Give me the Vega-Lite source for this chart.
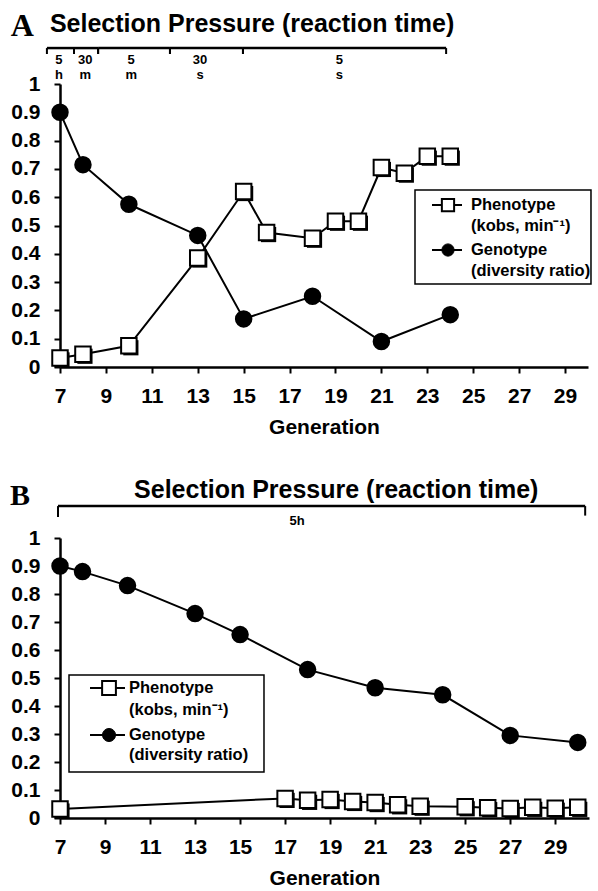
{
  "$schema": "https://vega.github.io/schema/vega-lite/v6.json",
  "background": "white",
  "padding": {"left": 10, "top": 9, "right": 0, "bottom": 0},
  "spacing": 40,
  "config": {
    "view": {"stroke": null},
    "font": "Liberation Sans",
    "axis": {
      "domainColor": "black", "domainWidth": 2.5, "tickColor": "black", "tickWidth": 2, "tickSize": 6,
      "labelFont": "Liberation Sans", "labelFontWeight": "bold", "labelColor": "black", "labelOverlap": false,
      "titleFont": "Liberation Sans", "titleFontWeight": "bold", "titleColor": "black", "grid": false
    },
    "axisX": {"labelFontSize": 21, "labelPadding": 12, "titleFontSize": 21, "titlePadding": 10, "labelFlush": false},
    "axisY": {"labelFontSize": 21, "labelPadding": 14, "labelFlush": false}
  },
  "datasets": {
    "a": [
      {"gen": 7, "value": 0.032, "series": "Phenotype"},
      {"gen": 8, "value": 0.045, "series": "Phenotype"},
      {"gen": 10, "value": 0.075, "series": "Phenotype"},
      {"gen": 13, "value": 0.385, "series": "Phenotype"},
      {"gen": 15, "value": 0.62, "series": "Phenotype"},
      {"gen": 16, "value": 0.475, "series": "Phenotype"},
      {"gen": 18, "value": 0.455, "series": "Phenotype"},
      {"gen": 19, "value": 0.515, "series": "Phenotype"},
      {"gen": 20, "value": 0.515, "series": "Phenotype"},
      {"gen": 21, "value": 0.705, "series": "Phenotype"},
      {"gen": 22, "value": 0.685, "series": "Phenotype"},
      {"gen": 23, "value": 0.745, "series": "Phenotype"},
      {"gen": 24, "value": 0.745, "series": "Phenotype"},
      {"gen": 7, "value": 0.9, "series": "Genotype"},
      {"gen": 8, "value": 0.715, "series": "Genotype"},
      {"gen": 10, "value": 0.575, "series": "Genotype"},
      {"gen": 13, "value": 0.465, "series": "Genotype"},
      {"gen": 15, "value": 0.17, "series": "Genotype"},
      {"gen": 18, "value": 0.25, "series": "Genotype"},
      {"gen": 21, "value": 0.09, "series": "Genotype"},
      {"gen": 24, "value": 0.185, "series": "Genotype"}
    ],
    "b": [
      {"gen": 7, "value": 0.032, "series": "Phenotype"},
      {"gen": 17, "value": 0.07, "series": "Phenotype"},
      {"gen": 18, "value": 0.063, "series": "Phenotype"},
      {"gen": 19, "value": 0.066, "series": "Phenotype"},
      {"gen": 20, "value": 0.059, "series": "Phenotype"},
      {"gen": 21, "value": 0.055, "series": "Phenotype"},
      {"gen": 22, "value": 0.047, "series": "Phenotype"},
      {"gen": 23, "value": 0.042, "series": "Phenotype"},
      {"gen": 25, "value": 0.04, "series": "Phenotype"},
      {"gen": 26, "value": 0.037, "series": "Phenotype"},
      {"gen": 27, "value": 0.034, "series": "Phenotype"},
      {"gen": 28, "value": 0.038, "series": "Phenotype"},
      {"gen": 29, "value": 0.035, "series": "Phenotype"},
      {"gen": 30, "value": 0.038, "series": "Phenotype"},
      {"gen": 7, "value": 0.9, "series": "Genotype"},
      {"gen": 8, "value": 0.88, "series": "Genotype"},
      {"gen": 10, "value": 0.83, "series": "Genotype"},
      {"gen": 13, "value": 0.73, "series": "Genotype"},
      {"gen": 15, "value": 0.655, "series": "Genotype"},
      {"gen": 18, "value": 0.53, "series": "Genotype"},
      {"gen": 21, "value": 0.465, "series": "Genotype"},
      {"gen": 24, "value": 0.44, "series": "Genotype"},
      {"gen": 27, "value": 0.295, "series": "Genotype"},
      {"gen": 30, "value": 0.27, "series": "Genotype"}
    ],
    "pressureA": [
      {"start": 6.43, "end": 7.61, "mid": 6.95, "label": "5\nh"},
      {"start": 7.61, "end": 8.66, "mid": 8.1, "label": "30\nm"},
      {"start": 8.66, "end": 11.79, "mid": 10.1, "label": "5\nm"},
      {"start": 11.79, "end": 14.97, "mid": 13.1, "label": "30\ns"},
      {"start": 14.97, "end": 23.82, "mid": 19.17, "label": "5\ns"}
    ],
    "pressureB": [
      {"start": 6.91, "end": 30.33, "mid": 17.53, "label": "5h"}
    ],
    "legend": [
      {"series": "Phenotype", "name": "Phenotype", "detail": "(kobs, min⁻¹)"},
      {"series": "Genotype", "name": "Genotype", "detail": "(diversity ratio)"}
    ],
    "titleA": [{"letter": "A", "title": "Selection Pressure (reaction time)"}],
    "titleB": [{"letter": "B", "title": "Selection Pressure (reaction time)"}]
  },
  "vconcat": [
    {
      "width": 528,
      "height": 283,
      "encoding": {
        "y": {"type": "quantitative", "title": null,
              "scale": {"domain": [0, 1], "nice": false},
              "axis": {"values": [0, 0.1, 0.2, 0.3, 0.4, 0.5, 0.6, 0.7, 0.8, 0.9, 1], "format": ".1~f", "labelOverlap": false}}
      },
      "layer": [
        {
          "data": {"name": "a"},
          "mark": {"type": "line", "color": "black", "strokeWidth": 2},
          "encoding": {
            "x": {"field": "gen", "type": "quantitative", "title": "Generation",
                  "scale": {"domain": [7, 30], "nice": false, "zero": false},
                  "axis": {"values": [7, 9, 11, 13, 15, 17, 19, 21, 23, 25, 27, 29]}},
            "y": {"field": "value", "type": "quantitative", "title": null,
                  "axis": {"values": [0, 0.1, 0.2, 0.3, 0.4, 0.5, 0.6, 0.7, 0.8, 0.9, 1], "format": ".1~f", "labelOverlap": false}},
            "detail": {"field": "series"}
          }
        },
        {
          "data": {"name": "a"},
          "transform": [{"filter": "datum.series == 'Phenotype'"}],
          "mark": {"type": "point", "shape": "square", "filled": true, "color": "black", "opacity": 1, "size": 230, "xOffset": 2, "yOffset": 2},
          "encoding": {
            "x": {"field": "gen", "type": "quantitative", "title": "Generation"},
            "y": {"field": "value", "type": "quantitative", "title": null}
          }
        },
        {
          "data": {"name": "a"},
          "mark": {"type": "point", "filled": true, "stroke": "black", "strokeWidth": 2, "opacity": 1, "size": 240},
          "encoding": {
            "x": {"field": "gen", "type": "quantitative", "title": "Generation"},
            "y": {"field": "value", "type": "quantitative", "title": null},
            "shape": {"field": "series", "type": "nominal",
              "scale": {"domain": ["Phenotype", "Genotype"], "range": ["square", "circle"]}, "legend": null},
            "fill": {"field": "series", "type": "nominal",
              "scale": {"domain": ["Phenotype", "Genotype"], "range": ["white", "black"]}, "legend": null}
          }
        },
        {
          "data": {"name": "pressureA"},
          "mark": {"type": "rule", "color": "black", "strokeWidth": 2.5},
          "encoding": {
            "x": {"field": "start", "type": "quantitative", "title": "Generation"},
            "x2": {"field": "end"},
            "y": {"datum": 1.127, "type": "quantitative"}
          }
        },
        {
          "data": {"name": "pressureA"},
          "mark": {"type": "rule", "color": "black", "strokeWidth": 2},
          "encoding": {
            "x": {"field": "start", "type": "quantitative", "title": "Generation"},
            "y": {"datum": 1.127, "type": "quantitative"},
            "y2": {"datum": 1.106}
          }
        },
        {
          "data": {"name": "pressureA"},
          "mark": {"type": "rule", "color": "black", "strokeWidth": 2},
          "encoding": {
            "x": {"field": "end", "type": "quantitative", "title": "Generation"},
            "y": {"datum": 1.127, "type": "quantitative"},
            "y2": {"datum": 1.106}
          }
        },
        {
          "data": {"name": "pressureA"},
          "mark": {"type": "text", "font": "Liberation Sans", "fontWeight": "bold", "fontSize": 13, "lineBreak": "\n", "lineHeight": 14.5, "baseline": "top", "align": "center", "color": "black"},
          "encoding": {
            "x": {"field": "mid", "type": "quantitative", "title": "Generation"},
            "y": {"datum": 1.106, "type": "quantitative"},
            "text": {"field": "label"}
          }
        },
        {
          "data": {"name": "titleA"},
          "mark": {"type": "text", "font": "Liberation Serif", "fontWeight": "bold", "fontSize": 32, "baseline": "alphabetic", "align": "left", "color": "black"},
          "encoding": {
            "x": {"datum": 4.86, "type": "quantitative"},
            "y": {"datum": 1.17, "type": "quantitative"},
            "text": {"field": "letter"}
          }
        },
        {
          "data": {"name": "titleA"},
          "mark": {"type": "text", "font": "Liberation Sans", "fontWeight": "bold", "fontSize": 25, "baseline": "alphabetic", "align": "left", "color": "black"},
          "encoding": {
            "x": {"datum": 6.56, "type": "quantitative"},
            "y": {"datum": 1.184, "type": "quantitative"},
            "text": {"field": "title"}
          }
        },
        {
          "data": {"name": "titleA"},
          "mark": {"type": "rect", "fill": "black", "xOffset": 3, "yOffset": 3},
          "encoding": {
            "x": {"datum": 22.464, "type": "quantitative"}, "x2": {"datum": 30.13},
            "y": {"datum": 0.6254, "type": "quantitative"}, "y2": {"datum": 0.2933}
          }
        },
        {
          "data": {"name": "titleA"},
          "mark": {"type": "rect", "fill": "white", "stroke": "black", "strokeWidth": 1.5},
          "encoding": {
            "x": {"datum": 22.464, "type": "quantitative"}, "x2": {"datum": 30.13},
            "y": {"datum": 0.6254, "type": "quantitative"}, "y2": {"datum": 0.2933}
          }
        },
        {
          "data": {"name": "legend"},
          "transform": [{"filter": "datum.series == 'Phenotype'"}],
          "layer": [
            {
              "mark": {"type": "rule", "color": "black", "strokeWidth": 2},
              "encoding": {
                "x": {"datum": 23.205, "type": "quantitative"}, "x2": {"datum": 24.511},
                "y": {"datum": 0.5724, "type": "quantitative"}
              }
            },
            {
              "mark": {"type": "point", "shape": "square", "filled": true, "fill": "white", "stroke": "black", "strokeWidth": 2, "opacity": 1, "size": 150},
              "encoding": {
                "x": {"datum": 23.901, "type": "quantitative"},
                "y": {"datum": 0.5724, "type": "quantitative"}
              }
            },
            {
              "mark": {"type": "text", "font": "Liberation Sans", "fontWeight": "bold", "fontSize": 16.5, "align": "left", "baseline": "middle", "color": "black"},
              "encoding": {
                "x": {"datum": 24.903, "type": "quantitative"},
                "y": {"datum": 0.5724, "type": "quantitative"},
                "text": {"field": "name"}
              }
            },
            {
              "mark": {"type": "text", "font": "Liberation Sans", "fontWeight": "bold", "fontSize": 16.5, "align": "left", "baseline": "middle", "color": "black"},
              "encoding": {
                "x": {"datum": 24.903, "type": "quantitative"},
                "y": {"datum": 0.4982, "type": "quantitative"},
                "text": {"field": "detail"}
              }
            }
          ]
        },
        {
          "data": {"name": "legend"},
          "transform": [{"filter": "datum.series == 'Genotype'"}],
          "layer": [
            {
              "mark": {"type": "rule", "color": "black", "strokeWidth": 2},
              "encoding": {
                "x": {"datum": 23.205, "type": "quantitative"}, "x2": {"datum": 24.511},
                "y": {"datum": 0.4134, "type": "quantitative"}
              }
            },
            {
              "mark": {"type": "point", "shape": "circle", "filled": true, "fill": "black", "stroke": "black", "strokeWidth": 1, "opacity": 1, "size": 150},
              "encoding": {
                "x": {"datum": 23.901, "type": "quantitative"},
                "y": {"datum": 0.4134, "type": "quantitative"}
              }
            },
            {
              "mark": {"type": "text", "font": "Liberation Sans", "fontWeight": "bold", "fontSize": 16.5, "align": "left", "baseline": "middle", "color": "black"},
              "encoding": {
                "x": {"datum": 24.903, "type": "quantitative"},
                "y": {"datum": 0.4134, "type": "quantitative"},
                "text": {"field": "name"}
              }
            },
            {
              "mark": {"type": "text", "font": "Liberation Sans", "fontWeight": "bold", "fontSize": 16.5, "align": "left", "baseline": "middle", "color": "black"},
              "encoding": {
                "x": {"datum": 24.903, "type": "quantitative"},
                "y": {"datum": 0.3392, "type": "quantitative"},
                "text": {"field": "detail"}
              }
            }
          ]
        }
      ]
    },
    {
      "width": 529,
      "height": 280,
      "encoding": {
        "y": {"type": "quantitative", "title": null,
              "scale": {"domain": [0, 1], "nice": false},
              "axis": {"values": [0, 0.1, 0.2, 0.3, 0.4, 0.5, 0.6, 0.7, 0.8, 0.9, 1], "format": ".1~f", "labelOverlap": false}}
      },
      "layer": [
        {
          "data": {"name": "b"},
          "mark": {"type": "line", "color": "black", "strokeWidth": 2},
          "encoding": {
            "x": {"field": "gen", "type": "quantitative", "title": "Generation",
                  "scale": {"domain": [7, 30.5], "nice": false, "zero": false},
                  "axis": {"values": [7, 9, 11, 13, 15, 17, 19, 21, 23, 25, 27, 29]}},
            "y": {"field": "value", "type": "quantitative", "title": null,
                  "axis": {"values": [0, 0.1, 0.2, 0.3, 0.4, 0.5, 0.6, 0.7, 0.8, 0.9, 1], "format": ".1~f", "labelOverlap": false}},
            "detail": {"field": "series"}
          }
        },
        {
          "data": {"name": "b"},
          "transform": [{"filter": "datum.series == 'Phenotype'"}],
          "mark": {"type": "point", "shape": "square", "filled": true, "color": "black", "opacity": 1, "size": 230, "xOffset": 2, "yOffset": 2},
          "encoding": {
            "x": {"field": "gen", "type": "quantitative", "title": "Generation"},
            "y": {"field": "value", "type": "quantitative", "title": null}
          }
        },
        {
          "data": {"name": "b"},
          "mark": {"type": "point", "filled": true, "stroke": "black", "strokeWidth": 2, "opacity": 1, "size": 240},
          "encoding": {
            "x": {"field": "gen", "type": "quantitative", "title": "Generation"},
            "y": {"field": "value", "type": "quantitative", "title": null},
            "shape": {"field": "series", "type": "nominal",
              "scale": {"domain": ["Phenotype", "Genotype"], "range": ["square", "circle"]}, "legend": null},
            "fill": {"field": "series", "type": "nominal",
              "scale": {"domain": ["Phenotype", "Genotype"], "range": ["white", "black"]}, "legend": null}
          }
        },
        {
          "data": {"name": "pressureB"},
          "mark": {"type": "rule", "color": "black", "strokeWidth": 2.5},
          "encoding": {
            "x": {"field": "start", "type": "quantitative", "title": "Generation"},
            "x2": {"field": "end"},
            "y": {"datum": 1.114, "type": "quantitative"}
          }
        },
        {
          "data": {"name": "pressureB"},
          "mark": {"type": "rule", "color": "black", "strokeWidth": 2},
          "encoding": {
            "x": {"field": "start", "type": "quantitative", "title": "Generation"},
            "y": {"datum": 1.114, "type": "quantitative"},
            "y2": {"datum": 1.075}
          }
        },
        {
          "data": {"name": "pressureB"},
          "mark": {"type": "rule", "color": "black", "strokeWidth": 2},
          "encoding": {
            "x": {"field": "end", "type": "quantitative", "title": "Generation"},
            "y": {"datum": 1.114, "type": "quantitative"},
            "y2": {"datum": 1.08}
          }
        },
        {
          "data": {"name": "pressureB"},
          "mark": {"type": "text", "font": "Liberation Sans", "fontWeight": "bold", "fontSize": 13, "baseline": "middle", "align": "center", "color": "black"},
          "encoding": {
            "x": {"field": "mid", "type": "quantitative", "title": "Generation"},
            "y": {"datum": 1.061, "type": "quantitative"},
            "text": {"field": "label"}
          }
        },
        {
          "data": {"name": "titleB"},
          "mark": {"type": "text", "font": "Liberation Serif", "fontWeight": "bold", "fontSize": 30, "baseline": "alphabetic", "align": "left", "color": "black"},
          "encoding": {
            "x": {"datum": 4.78, "type": "quantitative"},
            "y": {"datum": 1.118, "type": "quantitative"},
            "text": {"field": "letter"}
          }
        },
        {
          "data": {"name": "titleB"},
          "mark": {"type": "text", "font": "Liberation Sans", "fontWeight": "bold", "fontSize": 25, "baseline": "alphabetic", "align": "left", "color": "black"},
          "encoding": {
            "x": {"datum": 10.29, "type": "quantitative"},
            "y": {"datum": 1.143, "type": "quantitative"},
            "text": {"field": "title"}
          }
        },
        {
          "data": {"name": "titleB"},
          "mark": {"type": "rect", "fill": "black", "xOffset": 3, "yOffset": 3},
          "encoding": {
            "x": {"datum": 7.4, "type": "quantitative"}, "x2": {"datum": 16.062},
            "y": {"datum": 0.5107, "type": "quantitative"}, "y2": {"datum": 0.1643}
          }
        },
        {
          "data": {"name": "titleB"},
          "mark": {"type": "rect", "fill": "white", "stroke": "black", "strokeWidth": 1.5},
          "encoding": {
            "x": {"datum": 7.4, "type": "quantitative"}, "x2": {"datum": 16.062},
            "y": {"datum": 0.5107, "type": "quantitative"}, "y2": {"datum": 0.1643}
          }
        },
        {
          "data": {"name": "legend"},
          "transform": [{"filter": "datum.series == 'Phenotype'"}],
          "layer": [
            {
              "mark": {"type": "rule", "color": "black", "strokeWidth": 2},
              "encoding": {
                "x": {"datum": 8.333, "type": "quantitative"}, "x2": {"datum": 9.887},
                "y": {"datum": 0.4643, "type": "quantitative"}
              }
            },
            {
              "mark": {"type": "point", "shape": "square", "filled": true, "fill": "white", "stroke": "black", "strokeWidth": 2, "opacity": 1, "size": 190},
              "encoding": {
                "x": {"datum": 9.177, "type": "quantitative"},
                "y": {"datum": 0.4643, "type": "quantitative"}
              }
            },
            {
              "mark": {"type": "text", "font": "Liberation Sans", "fontWeight": "bold", "fontSize": 16.5, "align": "left", "baseline": "middle", "color": "black"},
              "encoding": {
                "x": {"datum": 10.065, "type": "quantitative"},
                "y": {"datum": 0.4643, "type": "quantitative"},
                "text": {"field": "name"}
              }
            },
            {
              "mark": {"type": "text", "font": "Liberation Sans", "fontWeight": "bold", "fontSize": 16.5, "align": "left", "baseline": "middle", "color": "black"},
              "encoding": {
                "x": {"datum": 10.065, "type": "quantitative"},
                "y": {"datum": 0.3857, "type": "quantitative"},
                "text": {"field": "detail"}
              }
            }
          ]
        },
        {
          "data": {"name": "legend"},
          "transform": [{"filter": "datum.series == 'Genotype'"}],
          "layer": [
            {
              "mark": {"type": "rule", "color": "black", "strokeWidth": 2},
              "encoding": {
                "x": {"datum": 8.333, "type": "quantitative"}, "x2": {"datum": 9.887},
                "y": {"datum": 0.2964, "type": "quantitative"}
              }
            },
            {
              "mark": {"type": "point", "shape": "circle", "filled": true, "fill": "black", "stroke": "black", "strokeWidth": 1, "opacity": 1, "size": 170},
              "encoding": {
                "x": {"datum": 9.177, "type": "quantitative"},
                "y": {"datum": 0.2964, "type": "quantitative"}
              }
            },
            {
              "mark": {"type": "text", "font": "Liberation Sans", "fontWeight": "bold", "fontSize": 16.5, "align": "left", "baseline": "middle", "color": "black"},
              "encoding": {
                "x": {"datum": 10.065, "type": "quantitative"},
                "y": {"datum": 0.2964, "type": "quantitative"},
                "text": {"field": "name"}
              }
            },
            {
              "mark": {"type": "text", "font": "Liberation Sans", "fontWeight": "bold", "fontSize": 16.5, "align": "left", "baseline": "middle", "color": "black"},
              "encoding": {
                "x": {"datum": 10.065, "type": "quantitative"},
                "y": {"datum": 0.225, "type": "quantitative"},
                "text": {"field": "detail"}
              }
            }
          ]
        }
      ]
    }
  ]
}
